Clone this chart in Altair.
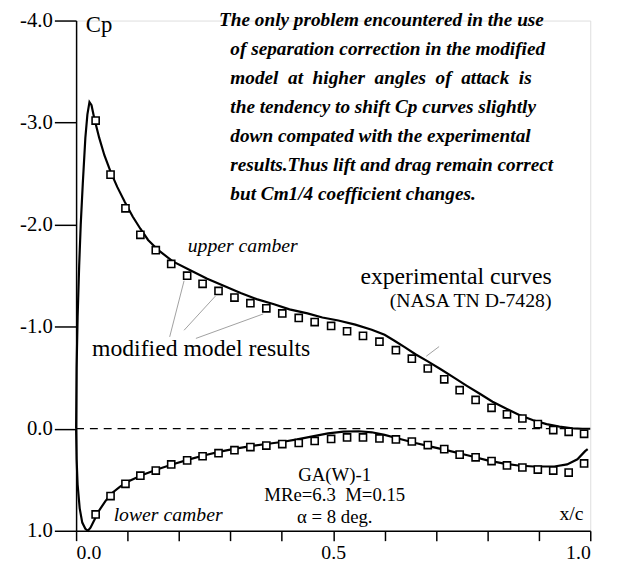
import altair as alt
import pandas as pd

# ---- data ----
x_stations = [0.038, 0.067, 0.096, 0.125, 0.155, 0.185, 0.216, 0.246, 0.277, 0.308,
              0.339, 0.370, 0.401, 0.433, 0.464, 0.496, 0.527, 0.558, 0.590, 0.622,
              0.653, 0.684, 0.716, 0.746, 0.777, 0.808, 0.838, 0.868, 0.898, 0.928,
              0.958, 0.988]
upper_model_cp = [-3.02, -2.49, -2.16, -1.90, -1.75, -1.615, -1.50, -1.42, -1.35, -1.285,
                  -1.23, -1.18, -1.13, -1.086, -1.045, -1.007, -0.955, -0.91, -0.853, -0.77,
                  -0.686, -0.59, -0.484, -0.378, -0.282, -0.205, -0.141, -0.10, -0.045, 0.013,
                  0.03, 0.05]
lower_model_cp = [0.84, 0.66, 0.54, 0.46, 0.41, 0.35, 0.31, 0.27, 0.24, 0.21,
                  0.18, 0.165, 0.15, 0.14, 0.12, 0.10, 0.085, 0.085, 0.095, 0.105,
                  0.125, 0.16, 0.2, 0.254, 0.28, 0.317, 0.36, 0.38, 0.40, 0.41,
                  0.43, 0.34]

upper_exp_x = [0.0, 0.001, 0.003, 0.006, 0.009, 0.013, 0.018, 0.022, 0.026, 0.030,
               0.035, 0.045, 0.055, 0.067, 0.080, 0.095, 0.110, 0.125, 0.140, 0.160,
               0.188, 0.223, 0.255, 0.287, 0.320, 0.351, 0.385, 0.415, 0.450, 0.479,
               0.510, 0.543, 0.575, 0.600, 0.620, 0.639, 0.660, 0.684, 0.710, 0.735,
               0.760, 0.786, 0.810, 0.837, 0.862, 0.889, 0.915, 0.940, 0.965, 0.985, 1.0]
upper_exp_cp = [0.0, -0.6, -1.1, -1.6, -2.0, -2.4, -2.85, -3.08, -3.2, -3.17,
                -3.05, -2.85, -2.68, -2.52, -2.37, -2.22, -2.08, -1.96, -1.85, -1.75,
                -1.64, -1.55, -1.47, -1.40, -1.33, -1.27, -1.22, -1.17, -1.13, -1.09,
                -1.06, -1.02, -0.97, -0.92, -0.86, -0.80, -0.73, -0.66, -0.58, -0.50,
                -0.42, -0.34, -0.265, -0.195, -0.135, -0.083, -0.045, -0.02, -0.005, 0.0, 0.0]

lower_exp_x = [0.0, 0.001, 0.003, 0.007, 0.012, 0.018, 0.023, 0.028, 0.035, 0.045,
               0.057, 0.070, 0.085, 0.100, 0.130, 0.160, 0.190, 0.220, 0.250, 0.280,
               0.310, 0.340, 0.370, 0.400, 0.430, 0.460, 0.490, 0.520, 0.550, 0.575,
               0.600, 0.630, 0.660, 0.690, 0.720, 0.765, 0.800, 0.830, 0.860, 0.890,
               0.930, 0.955, 0.975, 0.990, 0.995]
lower_exp_cp = [0.0, 0.3, 0.55, 0.78, 0.92, 0.98, 1.0, 0.97, 0.9, 0.8,
                0.71, 0.63, 0.57, 0.52, 0.45, 0.395, 0.345, 0.30, 0.26, 0.225,
                0.195, 0.17, 0.15, 0.13, 0.105, 0.075, 0.045, 0.028, 0.025, 0.035,
                0.06, 0.10, 0.14, 0.175, 0.21, 0.265, 0.31, 0.34, 0.36, 0.37,
                0.37, 0.35, 0.30, 0.22, 0.20]

x_ticks = [0.0, 0.1, 0.2, 0.3, 0.4, 0.5, 0.6, 0.7, 0.8, 0.9, 1.0]
y_ticks = [-4.0, -3.0, -2.0, -1.0, 0.0, 1.0]

note_lines = [
    "The only problem encountered in the use",
    "of separation correction in the modified",
    "model\u00a0 at\u00a0 higher\u00a0 angles\u00a0 of\u00a0 attack\u00a0 is",
    "the tendency to shift Cp curves slightly",
    "down compated with the experimental",
    "results.Thus lift and drag remain correct",
    "but Cm1/4 coefficient changes.",
]
note_x = [0.278, 0.300, 0.300, 0.300, 0.300, 0.300, 0.300]
note_y = [-4.0, -3.716, -3.433, -3.149, -2.865, -2.582, -2.298]

case_lines = ["GA(W)-1", "MRe=6.3\u00a0 M=0.15", "\u03b1 = 8 deg."]
case_y = [0.45, 0.65, 0.865]

# ---- tables ----
model = pd.DataFrame({
    "x": x_stations * 2,
    "cp": upper_model_cp + lower_model_cp,
})
upper = pd.DataFrame({"x": upper_exp_x, "cp": upper_exp_cp, "i": range(len(upper_exp_x))})
lower = pd.DataFrame({"x": lower_exp_x, "cp": lower_exp_cp, "i": range(len(lower_exp_x))})

FONT = "Liberation Serif"
xs = alt.Scale(domain=[0, 1], nice=False, zero=False)
ys = alt.Scale(domain=[-4, 1], reverse=True, nice=False, zero=False)

xaxis = alt.Axis(values=x_ticks, labelExpr="round(datum.value*10) % 5 == 0 ? format(datum.value, '.1f') : ''",
                 tickSize=10, tickWidth=1.5, tickColor="black", domainColor="black", domainWidth=1.5,
                 labelFont=FONT, labelFontSize=20, labelColor="black", labelPadding=2, grid=False,
                 title=None)
yaxis = alt.Axis(values=y_ticks,
                 labelExpr="(datum.value < 0 ? '-' : '') + format(abs(datum.value), '.1f')",
                 tickSize=22, tickWidth=1.5, tickColor="black", domainColor="black", domainWidth=1.5,
                 labelFont=FONT, labelFontSize=21, labelColor="black", labelPadding=2, grid=False,
                 title=None)

X = alt.X("x:Q", scale=xs, axis=xaxis)
Y = alt.Y("cp:Q", scale=ys, axis=yaxis)

zero_line = alt.Chart(pd.DataFrame({"x": [0.0], "x2": [0.995], "cp": [0.0]})).mark_rule(
    color="black", strokeWidth=1.3, strokeDash=[8, 6]).encode(x=X, x2="x2:Q", y=Y)

upper_line = alt.Chart(upper).mark_line(color="black", strokeWidth=2.2).encode(
    x=X, y=Y, order="i:Q")
lower_line = alt.Chart(lower).mark_line(color="black", strokeWidth=2.2).encode(
    x=X, y=Y, order="i:Q")

squares = alt.Chart(model).mark_point(shape="square", size=52, filled=True, fill="white",
                                      stroke="black", strokeWidth=1.6, opacity=1).encode(x=X, y=Y)

leaders = pd.DataFrame({
    "x": [0.182, 0.210, 0.233, 0.681],
    "cp": [-0.90, -0.965, -0.885, -0.71],
    "x2": [0.210, 0.271, 0.364, 0.706],
    "cp2": [-1.45, -1.30, -1.125, -0.805],
})
leader_rules = alt.Chart(leaders).mark_rule(color="#888888", strokeWidth=0.8).encode(
    x=X, y=Y, x2="x2:Q", y2="cp2:Q")

notes = pd.DataFrame({"x": note_x, "cp": note_y, "t": note_lines})
note_text = alt.Chart(notes).mark_text(font=FONT, fontSize=19.5, fontStyle="italic", fontWeight="bold",
                                       align="left", baseline="middle", color="black").encode(
    x=X, y=Y, text="t:N")

italic_labels = pd.DataFrame({"x": [0.217, 0.073], "cp": [-1.79, 0.846],
                              "t": ["upper camber", "lower camber"]})
italic_text = alt.Chart(italic_labels).mark_text(font=FONT, fontSize=20, fontStyle="italic",
                                                 align="left", baseline="middle", color="black").encode(
    x=X, y=Y, text="t:N")

big_labels = pd.DataFrame({"x": [0.553, 0.031], "cp": [-1.49, -0.78],
                           "t": ["experimental curves", "modified model results"]})
big_text = alt.Chart(big_labels).mark_text(font=FONT, fontSize=24, align="left", baseline="middle",
                                           color="black").encode(x=X, y=Y, text="t:N")

mid_labels = pd.DataFrame({"x": [0.610, 0.94], "cp": [-1.25, 0.84],
                           "t": ["(NASA TN D-7428)", "x/c"]})
mid_text = alt.Chart(mid_labels).mark_text(font=FONT, fontSize=20, align="left", baseline="middle",
                                           color="black").encode(x=X, y=Y, text="t:N")

cp_label = pd.DataFrame({"x": [0.019], "cp": [-3.96], "t": ["Cp"]})
cp_text = alt.Chart(cp_label).mark_text(font=FONT, fontSize=23, align="left", baseline="middle",
                                        color="black").encode(x=X, y=Y, text="t:N")

case = pd.DataFrame({"x": [0.503] * 3, "cp": case_y, "t": case_lines})
case_text = alt.Chart(case).mark_text(font=FONT, fontSize=19, align="center", baseline="middle",
                                      color="black").encode(x=X, y=Y, text="t:N")

chart = alt.layer(zero_line, upper_line, lower_line, leader_rules, squares, note_text,
                  italic_text, big_text, mid_text, cp_text, case_text).properties(
    width=521, height=517,
    padding={"left": 69, "top": 9, "right": 20, "bottom": 33},
    autosize=alt.AutoSizeParams(type="none"),
).configure_view(stroke=None).configure_axis(labelFont=FONT).configure(background="white")

chart.save("out.html", embed_options={"renderer": "svg", "actions": False})
